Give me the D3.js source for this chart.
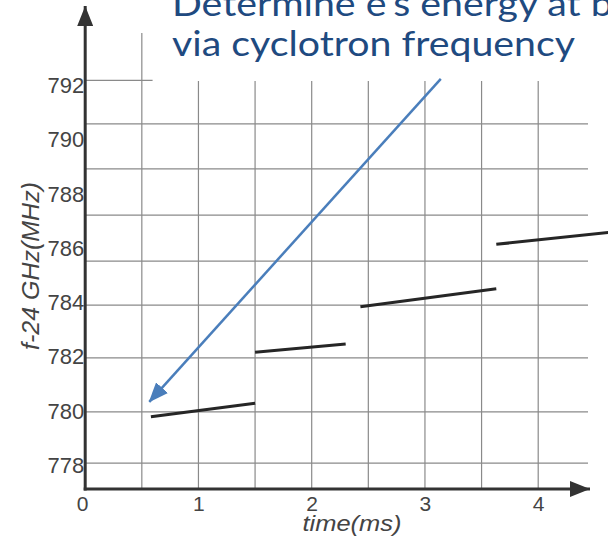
<!DOCTYPE html>
<html>
<head>
<meta charset="utf-8">
<script src="https://cdn.jsdelivr.net/npm/d3@7/dist/d3.min.js"></script>
<style>
  html, body { margin: 0; padding: 0; background: #ffffff; overflow: hidden; }
  svg { display: block; }
</style>
</head>
<body>
<svg id="chart" width="608" height="537"></svg>
<script>
// ---------------- data ----------------
const xTicks = [0, 1, 2, 3, 4];
const yTicks = [778, 780, 782, 784, 786, 788, 790, 792];
const xGrid = [0.5, 1, 1.5, 2, 2.5, 3, 3.5, 4];
const yGrid = [778.08, 779.97, 781.96, 783.91, 785.53, 787.23, 788.93, 790.59];
const yGridShort = [792.25];

// measured frequency segments (time in ms, f-24GHz in MHz)
const segStartT = [0.58, 1.5, 2.43, 3.63];
const segEndT   = [1.5, 2.3, 3.63, 4.7];
const segStartF = [779.79, 782.17, 783.85, 786.15];
const segEndF   = [780.29, 782.47, 784.51, 786.62];

// annotation arrow (from, to)
const arrowT = [3.14, 0.566];
const arrowF = [792.25, 780.34];

const titleLines = ["Determine e\u2019s energy at birth", "via cyclotron frequency"];
const xTitle = "time(ms)";
const yTitle = "f-24 GHz(MHz)";

// ---------------- scales ----------------
const svg = d3.select("#chart");
const x = d3.scaleLinear().domain([0, 4]).range([85.2, 538.2]);
const y = d3.scaleLinear().domain([778, 792]).range([465.3, 85.7]);

const axisY0 = 489;      // pixel row of time axis
const axisX0 = x(0);     // pixel col of frequency axis
const gridRight = 588;
const gridTop = 81;

const defs = svg.append("defs");
defs.append("marker").attr("id", "axisHeadX")
  .attr("viewBox", "0 0 20 16").attr("refX", 20).attr("refY", 8)
  .attr("markerUnits", "userSpaceOnUse").attr("markerWidth", 20).attr("markerHeight", 16)
  .attr("orient", "auto")
  .append("path").attr("d", "M0,0 L20,8 L0,16 Z").attr("fill", "#333");
defs.append("marker").attr("id", "blueHead")
  .attr("viewBox", "0 0 20 16").attr("refX", 19).attr("refY", 8)
  .attr("markerUnits", "userSpaceOnUse").attr("markerWidth", 20).attr("markerHeight", 16)
  .attr("orient", "auto")
  .append("path").attr("d", "M0,0 L20,8 L0,16 Z").attr("fill", "#4a7ebb");

// ---------------- grid ----------------
const grid = svg.append("g").attr("stroke", "#8a8a8a").attr("stroke-width", 1.2);
grid.selectAll("line.v").data(xGrid).join("line")
  .attr("x1", d => x(d)).attr("x2", d => x(d))
  .attr("y1", (d, i) => i === 0 ? 33 : gridTop).attr("y2", axisY0);
grid.selectAll("line.h").data(yGrid).join("line")
  .attr("x1", axisX0).attr("x2", gridRight)
  .attr("y1", d => y(d)).attr("y2", d => y(d));
grid.selectAll("line.hs").data(yGridShort).join("line")
  .attr("x1", axisX0).attr("x2", x(0.595))
  .attr("y1", d => y(d) + 1.5).attr("y2", d => y(d) + 1.5);

// ---------------- segments ----------------
svg.append("g").selectAll("line").data(segStartT).join("line")
  .attr("x1", (d, i) => x(segStartT[i])).attr("y1", (d, i) => y(segStartF[i]))
  .attr("x2", (d, i) => x(segEndT[i])).attr("y2", (d, i) => y(segEndF[i]))
  .attr("stroke", "#262626").attr("stroke-width", 3);

// ---------------- axes ----------------
svg.append("line")
  .attr("x1", axisX0 - 1.5).attr("x2", 590).attr("y1", axisY0).attr("y2", axisY0)
  .attr("stroke", "#333").attr("stroke-width", 3).attr("marker-end", "url(#axisHeadX)");
svg.append("line")
  .attr("x1", axisX0).attr("x2", axisX0).attr("y1", axisY0 + 1.5).attr("y2", 6)
  .attr("stroke", "#333").attr("stroke-width", 3).attr("marker-end", "url(#axisHeadX)");

const yAxis = svg.append("g").attr("transform", `translate(${axisX0 - 1},0)`)
  .call(d3.axisLeft(y).tickValues(yTicks).tickSize(0).tickPadding(0).tickFormat(d3.format("d")));
yAxis.select(".domain").remove();
yAxis.selectAll("text").attr("font-family", "'Liberation Sans', Arial, sans-serif")
  .attr("font-size", 22).attr("fill", "#444");

const xAxis = svg.append("g").attr("transform", `translate(0,${axisY0})`)
  .call(d3.axisBottom(x).tickValues(xTicks).tickSize(0).tickPadding(7).tickFormat(d3.format("d")));
xAxis.select(".domain").remove();
xAxis.selectAll("text").attr("font-family", "'Liberation Sans', Arial, sans-serif")
  .attr("font-size", 21).attr("fill", "#444");
xAxis.selectAll(".tick").filter(d => d === 0).select("text").attr("x", -3);

// axis titles
svg.append("text").attr("x", 352).attr("y", 531).attr("text-anchor", "middle")
  .attr("font-family", "'Liberation Sans', Arial, sans-serif").attr("font-style", "italic")
  .attr("font-size", 22).attr("fill", "#444")
  .attr("textLength", 99).attr("lengthAdjust", "spacingAndGlyphs").text(xTitle);
svg.append("text").attr("transform", "translate(39,266) rotate(-90)").attr("text-anchor", "middle")
  .attr("font-family", "'Liberation Sans', Arial, sans-serif").attr("font-style", "italic")
  .attr("font-size", 23).attr("fill", "#444")
  .attr("textLength", 168).attr("lengthAdjust", "spacingAndGlyphs").text(yTitle);

// ---------------- annotation ----------------
svg.append("line")
  .attr("x1", x(arrowT[0])).attr("y1", y(arrowF[0]))
  .attr("x2", x(arrowT[1])).attr("y2", y(arrowF[1]))
  .attr("stroke", "#4a7ebb").attr("stroke-width", 2.5).attr("marker-end", "url(#blueHead)");

const tg = svg.append("g").attr("font-family", "Lato, 'Open Sans', sans-serif")
  .attr("font-size", 34).attr("fill", "#1f4a80");
const t1 = tg.append("text").attr("x", 172).attr("y", 16).text(titleLines[0]);
const t2 = tg.append("text").attr("x", 172).attr("y", 56).text(titleLines[1]);
const w2 = t2.node().getComputedTextLength();
const w1 = t1.node().getComputedTextLength();
const r = 403 / w2;
t2.attr("textLength", 403).attr("lengthAdjust", "spacingAndGlyphs");
t1.attr("textLength", w1 * r).attr("lengthAdjust", "spacingAndGlyphs");
</script>
</body>
</html>
